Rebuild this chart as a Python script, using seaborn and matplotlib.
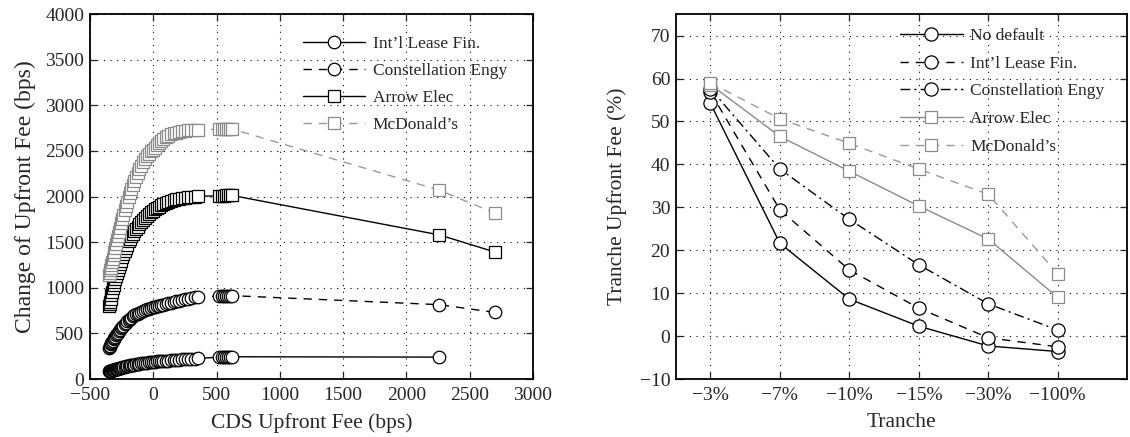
import seaborn as sns
import matplotlib.pyplot as plt
import pandas as pd

# left panel: CDS upfront fee (bps) vs change of tranche upfront fee (bps)
cds_fee = [-348, -344, -340, -335, -330, -325, -319, -313, -307, -300,
           -293, -286, -278, -270, -262, -253, -244, -235, -225, -215,
           -205, -194, -183, -172, -160, -148, -136, -123, -110, -96,
           -82, -67, -52, -37, -21, -5, 11, 28, 45, 63,
           81, 100, 120, 140, 161, 183, 206, 229, 253, 277,
           302, 327, 350, 520, 540, 560, 575, 590, 605, 620,
           2260, 2700]

intl_lease = [85, 87, 89, 91, 93, 95, 98, 100, 103, 106,
              109, 112, 115, 118, 121, 125, 128, 132, 135, 139,
              142, 146, 149, 153, 156, 159, 162, 165, 168, 171,
              174, 177, 179, 182, 184, 187, 190, 192, 194, 196,
              198, 200, 202, 204, 207, 209, 211, 214, 216, 219,
              221, 224, 227, 238, 240, 241, 242, 243, 243, 244,
              240]

constellation = [340, 352, 365, 380, 395, 408, 422, 435, 449, 465,
                 480, 494, 509, 525, 539, 555, 570, 585, 602, 618,
                 632, 647, 661, 674, 687, 697, 708, 718, 727, 738,
                 746, 755, 764, 771, 778, 785, 792, 798, 804, 810,
                 816, 822, 829, 836, 843, 851, 858, 865, 873, 880,
                 888, 895, 901, 908, 910, 912, 913, 913, 914, 914,
                 815, 730]

arrow_elec = [800, 822, 845, 881, 918, 954, 997, 1029, 1062, 1100,
              1131, 1163, 1199, 1230, 1262, 1298, 1333, 1368, 1406, 1440,
              1473, 1508, 1536, 1563, 1594, 1624, 1647, 1671, 1696, 1723,
              1742, 1765, 1787, 1808, 1826, 1844, 1860, 1875, 1891, 1904,
              1917, 1930, 1943, 1953, 1961, 1969, 1976, 1982, 1988, 1992,
              1996, 2000, 2003, 2008, 2010, 2011, 2012, 2012, 2013, 2013,
              1580, 1392]

mcdonalds = [1140, 1165, 1190, 1221, 1252, 1283, 1320, 1357, 1395, 1438,
             1481, 1522, 1567, 1612, 1657, 1707, 1758, 1803, 1849, 1895,
             1941, 1992, 2044, 2083, 2126, 2169, 2213, 2255, 2298, 2340,
             2377, 2417, 2443, 2468, 2495, 2512, 2535, 2566, 2586, 2607,
             2628, 2650, 2668, 2683, 2692, 2701, 2709, 2715, 2721, 2725,
             2729, 2732, 2735, 2737, 2738, 2739, 2740, 2741, 2742, 2742,
             2070, 1818]

# right panel: tranche upfront fee (%) by tranche
tranches = ['\u22123%', '\u22127%', '\u221210%', '\u221215%', '\u221230%', '\u2212100%']
no_default = [54.2, 21.6, 8.6, 2.3, -2.3, -3.6]
intl_tr = [56.8, 29.4, 15.4, 6.5, -0.4, -2.5]
constellation_tr = [57.6, 38.9, 27.2, 16.6, 7.5, 1.4]
arrow_tr = [58.6, 46.5, 38.4, 30.3, 22.6, 9.0]
mcdonalds_tr = [59.0, 50.6, 44.9, 38.9, 33.0, 14.5]

sns.set_style('ticks')
plt.rcParams['font.family'] = ['Liberation Serif', 'DejaVu Serif']

GRAY = '#8a8a8a'
LGRAY = '#9a9a9a'
DASH = (0, (6, 5))
DASHDOT = (0, (7, 3, 1.5, 3))

fig = plt.figure(figsize=(11.3, 4.37), dpi=100)
ax1 = fig.add_axes([0.0796, 0.1327, 0.392, 0.835])
ax2 = fig.add_axes([0.598, 0.1327, 0.3995, 0.835])


def draw(ax, x, y, label, color, ls, marker, ms, mec=None, lw=1.0):
    sns.lineplot(x=x, y=y, ax=ax, sort=False, estimator=None, legend=False,
                 color=color, linestyle=ls, linewidth=lw, marker=marker,
                 markersize=ms, markerfacecolor='white',
                 markeredgecolor=mec or color, markeredgewidth=0.9, label=label)


draw(ax1, cds_fee[:len(intl_lease)], intl_lease, "Int\u2019l Lease Fin.", 'black', '-', 'o', 9)
draw(ax1, cds_fee, constellation, 'Constellation Engy', 'black', DASH, 'o', 9)
draw(ax1, cds_fee, arrow_elec, 'Arrow Elec', 'black', '-', 's', 8)
draw(ax1, cds_fee, mcdonalds, "McDonald\u2019s", LGRAY, DASH, 's', 8, mec=GRAY)

pos = list(range(1, len(tranches) + 1))
draw(ax2, pos, no_default, 'No default', 'black', '-', 'o', 9.5)
draw(ax2, pos, intl_tr, "Int\u2019l Lease Fin.", 'black', DASH, 'o', 9.5)
draw(ax2, pos, constellation_tr, 'Constellation Engy', 'black', DASHDOT, 'o', 9.5)
draw(ax2, pos, arrow_tr, 'Arrow Elec', GRAY, '-', 's', 8.5)
draw(ax2, pos, mcdonalds_tr, "McDonald\u2019s", LGRAY, DASH, 's', 8.5, mec=GRAY)

ax1.set_xlim(-500, 3000)
ax1.set_ylim(0, 4000)
ax1.set_xticks(range(-500, 3001, 500))
ax1.set_yticks(range(0, 4001, 500))
ax1.set_xlabel('CDS Upfront Fee (bps)', fontsize=15.5, labelpad=6)
ax1.set_ylabel('Change of Upfront Fee (bps)', fontsize=17, labelpad=7)

ax2.set_xlim(0.5, 7)
ax2.set_ylim(-10, 75)
ax2.set_xticks(pos)
ax2.set_xticklabels(tranches)
ax2.set_yticks(range(-10, 71, 10))
ax2.set_xlabel('Tranche', fontsize=15.5, labelpad=6)
ax2.set_ylabel('Tranche Upfront Fee (%)', fontsize=15.5, labelpad=9)

for ax in (ax1, ax2):
    ax.grid(True, color='black', linestyle=(0, (1, 5)), linewidth=0.8)
    ax.tick_params(direction='in', top=True, right=True, length=5, width=0.9,
                   labelsize=14)
    ax.tick_params(axis='x', pad=6)
    ax.tick_params(axis='y', pad=4)
    for sp in ax.spines.values():
        sp.set_linewidth(1.3)
        sp.set_color('black')
    ax.set_axisbelow(True)

ax1.legend(loc='upper left', bbox_to_anchor=(0.48, 0.94), frameon=False,
           fontsize=12.5, handlelength=3.6, handletextpad=0.45,
           labelspacing=0.62, borderpad=0, borderaxespad=0)
ax2.legend(loc='upper left', bbox_to_anchor=(0.497, 0.962), frameon=False,
           fontsize=12.5, handlelength=3.6, handletextpad=0.45,
           labelspacing=0.66, borderpad=0, borderaxespad=0)

fig.savefig('out.png', dpi=100)
